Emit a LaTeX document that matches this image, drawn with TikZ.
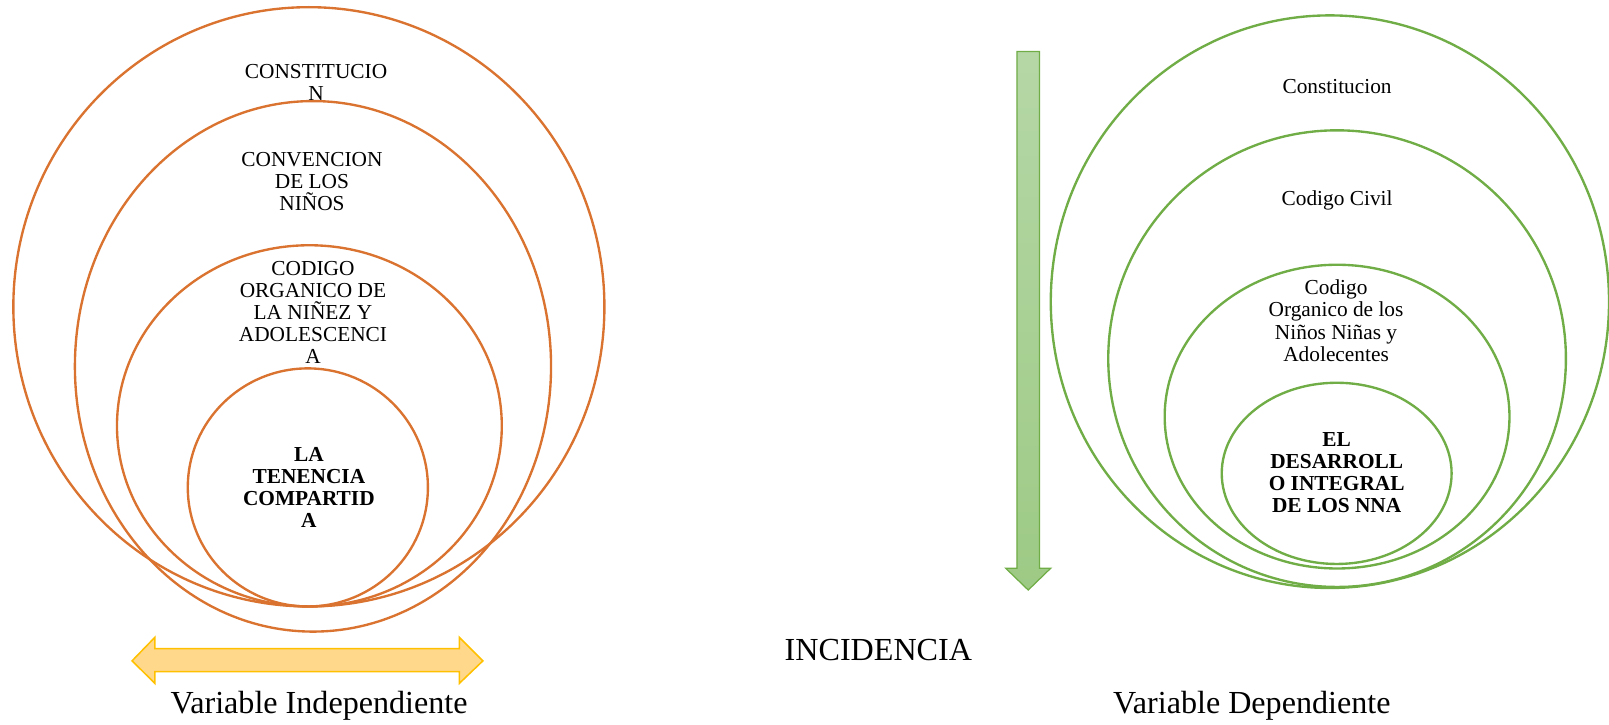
\documentclass[tikz,border=0pt]{standalone}
\usepackage{fontspec}
\setmainfont{Liberation Serif}
\definecolor{orln}{HTML}{D9732F}
\definecolor{grln}{HTML}{70AD47}
\definecolor{arrfill}{HTML}{FFD88C}
\definecolor{arrline}{HTML}{FFC000}
\definecolor{gtop}{HTML}{B5D7A6}
\definecolor{gbot}{HTML}{9DCA85}
\begin{document}
\begin{tikzpicture}[x=1pt,y=-1pt,
  oring/.style={draw=orln,line width=2.3pt},
  gring/.style={draw=grln,line width=2.3pt},
  lbl/.style={inner sep=0pt,align=center,font=\fontsize{20.8}{21.5}\selectfont},
  blbl/.style={inner sep=0pt,align=center,font=\fontsize{20.8}{21.3}\selectfont\bfseries},
  big/.style={inner sep=0pt,font=\fontsize{31.3}{36}\selectfont}]
\useasboundingbox (0,0) rectangle (1568,705.6);

% left (orange) rings
\draw[oring] (301,299) ellipse [x radius=288pt, y radius=292pt];
\draw[oring] (305,357) ellipse [x radius=232pt, y radius=258.5pt];
\draw[oring] (301.5,415) ellipse [x radius=187.5pt, y radius=176pt];
\draw[oring] (300,475) ellipse [x radius=117pt, y radius=116pt];

\node[lbl] (l1) at (308,80.5) {CONSTITUCIO\\N};
\node[lbl] (l2) at (304,176.6) {CONVENCION\\DE LOS\\NIÑOS};
\node[lbl] (l3) at (305,304.5) {CODIGO\\ORGANICO DE\\LA NIÑEZ Y\\ADOLESCENCI\\A};
\node[blbl] (l4) at (301,474.9) {LA\\TENENCIA\\COMPARTID\\A};

% orange double arrow
\draw[draw=arrline, line width=1.5pt, fill=arrfill, line join=miter]
  (128.7,644) -- (151,621) -- (151,632) -- (447.6,632) -- (447.6,621) -- (470.6,644)
  -- (447.6,666) -- (447.6,654.5) -- (151,654.5) -- (151,666) -- cycle;
\node[big,anchor=base] (vi) at (311,695) {Variable Independiente};

% middle
\node[big,anchor=base] (inc) at (856,643.9) {INCIDENCIA};

% green arrow
\path[draw=grln, line width=1.2pt, top color=gtop, bottom color=gbot]
  (991,50.3) -- (1013,50.3) -- (1013,553.7) -- (1024,553.7) -- (1002,575)
  -- (980,553.7) -- (991,553.7) -- cycle;

% right (green) rings
\draw[gring] (1296,294) ellipse [x radius=272pt, y radius=279pt];
\draw[gring] (1303,349.5) ellipse [x radius=223pt, y radius=222.5pt];
\draw[gring] (1303,406) ellipse [x radius=168pt, y radius=148pt];
\draw[gring] (1302.6,461.3) ellipse [x radius=112pt, y radius=88.3pt];

\node[lbl,anchor=base] (r1) at (1303,91.6) {Constitucion};
\node[lbl,anchor=base] (r2) at (1303,199.8) {Codigo Civil};
\node[lbl] (r3) at (1302,312.5) {Codigo\\Organico de los\\Niños Niñas y\\Adolecentes};
\node[blbl] (r4) at (1302.6,460.5) {EL\\DESARROLL\\O INTEGRAL\\DE LOS NNA};

\node[big,anchor=base] (vd) at (1220,695) {Variable Dependiente};
\end{tikzpicture}
\end{document}
